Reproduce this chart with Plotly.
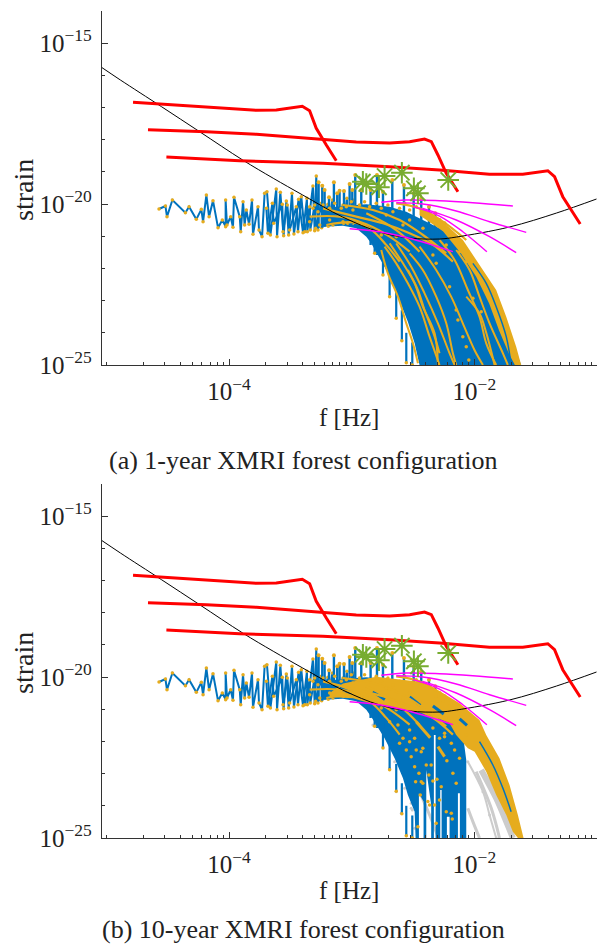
import plotly.graph_objects as go

# All arrays are log10(f [Hz]) and log10(strain).
sens_f = [-5.04,-4.886,-4.55,-4.24,-3.889,-3.64,-3.40,-3.074,-2.772,-2.528,-2.283,-2.145,-1.713,-1.330,-1.004]
sens_s = [-15.755,-16.149,-16.98,-17.755,-18.634,-19.2,-19.72,-20.404,-20.87,-21.056,-21.087,-21.025,-20.714,-20.28,-19.845]

red1_f = [-4.783,-4.321,-4.05,-3.777,-3.615,-3.506,-3.403,-3.343,-3.289,-3.207,-3.126]
red1_s = [-16.842,-16.947,-17.019,-17.09,-17.081,-17.028,-16.966,-17.102,-17.649,-18.168,-18.655]
red2_f = [-4.661,-4.185,-3.777,-3.37,-2.963,-2.691,-2.528,-2.406,-2.351,-2.297,-2.229,-2.134]
red2_s = [-17.693,-17.755,-17.835,-17.96,-18.075,-18.106,-18.065,-17.981,-18.065,-18.478,-19.047,-19.618]
red3_f = [-4.511,-3.914,-3.235,-2.691,-2.284,-1.877,-1.605,-1.401,-1.346,-1.279,-1.21,-1.137]
red3_s = [-18.54,-18.655,-18.736,-18.84,-18.944,-19.078,-19.078,-18.966,-19.152,-19.773,-20.186,-20.621]

mag_f = [[-2.759,-2.555,-2.284,-2.012,-1.686],[-2.636,-2.42,-2.148,-1.876,-1.577],
         [-2.501,-2.284,-2.094,-1.898],[-2.42,-2.148,-1.876,-1.659],[-3.017,-2.773,-2.528,-2.175]]
mag_s = [[-19.947,-19.876,-19.898,-19.96,-20.062],[-19.96,-20.0,-20.217,-20.55,-20.879],
         [-20.084,-20.373,-20.86,-21.481],[-20.134,-20.497,-21.016,-21.512],[-20.767,-20.86,-21.065,-21.481]]

star_f = [-2.909,-2.881,-2.778,-2.732,-2.591,-2.493,-2.46,-2.213]
star_s = [-19.307,-19.379,-19.481,-19.13,-19.028,-19.512,-19.668,-19.255]

zig_f = [-4.571,-4.519,-4.506,-4.462,-4.356,-4.326,-4.267,-4.226,-4.212,-4.185,-4.163,-4.131,-4.09,-4.055,-4.028,-4.028,-4.017,-3.987,-3.968,-3.96,-3.913,-3.905,-3.886,-3.873,-3.859,-3.837,-3.813,-3.805,-3.764,-3.756,-3.731,-3.71,-3.691,-3.663,-3.615,-3.609,-3.582,-3.555,-3.533,-3.514,-3.487,-3.471,-3.433,-3.397,-3.365,-3.362,-3.316,-3.302,-3.289,-3.275]
zig_s = [-20.155,-20.062,-20.394,-19.876,-20.269,-20.083,-20.476,-20.166,-20.549,-19.721,-20.394,-19.897,-20.735,-20.497,-20.704,-19.876,-20.652,-20.394,-20.725,-19.793,-20.394,-20.859,-19.928,-20.652,-20.186,-20.632,-19.876,-20.942,-20.083,-20.808,-21.015,-19.669,-19.617,-20.963,-19.534,-21.015,-19.638,-20.984,-19.907,-20.963,-19.669,-20.932,-19.855,-20.89,-19.824,-20.859,-19.441,-20.828,-19.131,-20.808]

dense_f = [-3.696,-3.683,-3.647,-3.636,-3.566,-3.56,-3.525,-3.506,-3.452,-3.438,-3.411,-3.384,-3.343,-3.338,-3.302,-3.294,-3.248,-3.245,-3.194,-3.191,-3.158,-3.153,-3.071,-3.066,-3.039,-3.033,-2.99,-2.987]
dense_s = [-20.135,-20.911,-19.979,-20.601,-20.011,-20.859,-20.031,-20.808,-20.083,-20.859,-19.772,-20.859,-20.083,-20.808,-20.031,-20.756,-19.979,-20.735,-20.011,-20.694,-19.876,-20.652,-20.031,-20.601,-19.824,-20.601,-19.876,-20.601]

spike_f   = [-3.27,-3.24,-3.221,-3.185,-3.145,-3.118,-3.099,-3.063,-3.017,-2.995,-2.971,-2.922,-2.846,-2.794,-2.745,-2.669,-2.574,-2.495,-2.433,-2.37,-2.319,-2.284,-2.243]
spike_top = [-19.327,-19.431,-19.565,-19.793,-19.327,-19.669,-19.586,-19.596,-19.379,-19.565,-19.1,-19.565,-19.565,-19.1,-19.617,-19.255,-19.41,-19.669,-19.824,-20.083,-20.29,-20.497,-20.601]
spike_bot = [-20.756,-20.735,-20.704,-20.683,-20.652,-20.632,-20.611,-20.601,-20.601,-20.632,-20.652,-20.704,-21.273,-21.584,-21.584,-21.2,-21.2,-21.2,-21.2,-21.2,-21.2,-21.2,-21.2]

tip_f   = [-2.813,-2.745,-2.691,-2.637,-2.591,-2.555,-2.506]
tip_top = [-21.1,-21.6,-22.1,-22.7,-23.3,-24.0,-24.3]
tip_bot = [-21.532,-22.205,-22.878,-23.551,-24.244,-24.928,-25.0]

body_a_f = [-3.234,-3.071,-2.963,-2.881,-2.841,-2.718,-2.623,-2.542,-2.487,-2.447,-1.618,-1.686,-1.767,-1.876,-2.012,-2.148,-2.284,-2.419,-2.555,-2.691,-2.881,-3.071,-3.234]
body_a_s = [-20.704,-20.673,-20.756,-21.015,-21.222,-22.05,-22.878,-23.654,-24.327,-25.0,-25.0,-24.327,-23.5,-22.464,-21.636,-21.118,-20.756,-20.497,-20.238,-20.083,-20.01,-20.062,-20.134]

band_a_f = [-2.447,-2.256,-2.093,-1.93,-1.822,-1.74,-1.659,-1.618,-1.67,-1.72,-1.80,-1.88,-1.985,-2.11,-2.256,-2.447]
band_a_s = [-20.135,-20.549,-21.118,-22.05,-22.67,-23.5,-24.43,-25.0,-25.0,-24.638,-23.913,-23.085,-22.257,-21.532,-20.85,-20.35]
thin_a_f = [-2.012,-1.903,-1.822,-1.74,-1.70]
thin_a_s = [-21.843,-22.464,-23.188,-24.12,-25.0]

arcs_a_f = [[-2.759,-2.705,-2.623,-2.555,-2.501,-2.46],[-2.732,-2.637,-2.542,-2.447,-2.365,-2.284],
            [-2.637,-2.515,-2.406,-2.297,-2.202,-2.161],[-2.528,-2.42,-2.311,-2.229,-2.175,-2.148],
            [-2.447,-2.311,-2.189,-2.094,-1.999,-1.93],[-2.148,-2.039,-1.958,-1.876,-1.767,-1.727],
            [-2.691,-2.582,-2.487,-2.42,-2.324,-2.297],[-2.542,-2.46,-2.406,-2.324,-2.284],
            [-2.284,-2.161,-2.053,-1.958,-1.903,-1.822],[-2.066,-1.958,-1.903,-1.835]]
arcs_a_s = [[-21.429,-22.153,-22.878,-23.706,-24.327,-24.948],[-21.325,-21.843,-22.464,-23.188,-24.12,-25.0],
            [-21.222,-21.946,-22.774,-23.706,-24.638,-25.0],[-21.532,-22.05,-22.878,-23.706,-24.638,-25.0],
            [-21.325,-22.05,-22.878,-23.706,-24.534,-25.0],[-21.429,-22.05,-22.878,-23.706,-24.638,-25.0],
            [-21.222,-21.843,-22.464,-23.188,-24.017,-25.0],[-22.05,-22.671,-23.292,-24.12,-24.638],
            [-21.118,-21.739,-22.671,-23.5,-24.327,-25.0],[-22.878,-23.4,-24.0,-25.0]]

streak_f = [[-3.343,-3.099,-2.881,-2.691,-2.528],[-3.234,-2.963,-2.745,-2.528,-2.338,-2.175],
            [-3.071,-2.827,-2.609,-2.419,-2.229],[-3.207,-2.99,-2.854,-2.718,-2.609],
            [-2.637,-2.447,-2.256,-2.066],[-2.881,-2.637,-2.447]]
streak_s = [[-20.394,-20.394,-20.632,-21.015,-21.48],[-20.135,-20.394,-20.6,-20.91,-21.27,-21.79],
            [-20.031,-20.186,-20.497,-20.963,-21.53],[-20.652,-20.57,-20.756,-21.27,-21.79],
            [-19.98,-20.135,-20.549,-21.118],[-20.29,-20.808,-21.48]]

dots_a_f = [-2.311,-2.202,-2.148,-2.094,-2.066,-2.045,-2.134,-2.012,-1.944,-3.316,-3.275,-3.234,-3.18,-3.139,-3.085,-3.044,-3.003,-2.936,-2.895,-2.854,-2.8,-2.759,-2.705,-2.664,-2.61,-2.569,-2.528,-2.474,-2.419,-2.365,-2.311,-2.256,-2.202,-2.148,-2.528,-2.419,-2.718,-2.582,-2.637,-2.759,-2.338,-2.229,-2.12,-2.066,-3.343,-3.261,-3.18,-3.071,-2.99]
dots_a_s = [-21.843,-22.567,-23.292,-24.12,-24.43,-24.845,-23.6,-22.93,-23.344,-20.135,-20.238,-20.031,-20.135,-19.979,-20.135,-20.083,-19.928,-20.031,-19.928,-20.083,-19.979,-20.135,-20.031,-20.238,-20.135,-19.979,-20.186,-20.083,-20.29,-20.342,-20.601,-20.756,-20.911,-21.015,-20.497,-20.756,-20.342,-20.652,-21.015,-20.963,-21.584,-21.273,-21.48,-21.791,-20.549,-20.652,-20.497,-20.549,-20.186]

# panel (b)
body_b_f = [-3.234,-3.071,-2.963,-2.881,-2.841,-2.732,-2.65,-2.582,-2.542,-2.487,-2.479,-2.452,-2.452,-2.414,-2.414,-2.392,-2.392,-2.352,-2.352,-2.33,-2.33,-2.316,-2.316,-2.278,-2.278,-2.267,-2.267,-2.224,-2.224,-2.202,-2.202,-2.134,-2.134,-2.118,-2.118,-2.066,-2.066,-2.093,-2.284,-2.419,-2.555,-2.691,-2.881,-3.071,-3.234]
body_b_s = [-20.704,-20.673,-20.756,-21.015,-21.232,-21.905,-22.526,-23.147,-23.664,-24.182,-25.0,-25.0,-23.613,-23.87,-25.0,-25.0,-22.888,-23.975,-25.0,-25.0,-21.801,-21.801,-25.0,-25.0,-23.509,-23.509,-25.0,-25.0,-24.337,-24.337,-25.0,-25.0,-23.613,-23.613,-25.0,-25.0,-22.577,-21.801,-20.756,-20.497,-20.238,-20.083,-20.01,-20.062,-20.134]

band_b_f = [-3.18,-3.071,-2.80,-2.637,-2.447,-2.256,-2.12,-1.958,-1.903,-1.795,-1.713,-1.645,-1.599,-1.645,-1.686,-1.74,-1.822,-1.903,-1.998,-2.053,-2.148,-2.202,-2.392,-2.582,-2.80,-2.99,-3.18]
band_b_s = [-20.5,-20.2,-19.99,-20.072,-20.145,-20.507,-20.818,-21.335,-21.801,-22.526,-23.354,-24.286,-25.0,-25.0,-24.803,-24.286,-23.664,-22.94,-22.319,-22.215,-21.801,-21.439,-21.128,-21.025,-20.87,-20.663,-20.62]
thin_b_f = [-1.958,-1.849,-1.767,-1.70]
thin_b_s = [-22.008,-22.733,-23.457,-24.182]

patch_f = [[-3.1,-3.0],[-2.827,-2.73],[-2.528,-2.44],[-2.338,-2.25],[-2.12,-2.06]]
patch_s = [[-20.35,-20.5],[-20.45,-20.7],[-20.62,-20.88],[-20.9,-21.15],[-21.3,-21.5]]

streak_b_f = [[-2.474,-2.36],[-2.297,-2.243]]
streak_b_s = [[-21.387,-21.884],[-22.163,-22.474]]

dots_b_f = [-2.691,-2.623,-2.528,-2.582,-2.487,-2.61,-2.528,-2.42,-2.555,-2.474,-2.433,-2.515,-2.392,-2.352,-2.487,-2.452,-2.371,-2.338,-2.305,-2.479,-2.433,-2.42,-2.27,-2.284,-2.243,-2.243,-2.188,-2.161,-2.224,-2.175,-2.148,-2.284,-2.379,-2.365,-2.324,-2.229,-2.188,-2.18,-2.311,-2.46,-2.441,-2.121]
dots_b_s = [-21.387,-21.491,-21.646,-21.905,-21.905,-22.06,-22.008,-22.215,-22.267,-22.267,-22.319,-22.474,-22.733,-22.733,-22.785,-22.992,-23.043,-23.23,-23.178,-23.25,-23.25,-23.302,-23.406,-21.905,-21.749,-21.853,-22.06,-22.267,-22.598,-22.992,-23.302,-23.82,-23.87,-23.975,-23.975,-24.182,-24.234,-24.41,-24.544,-24.648,-23.664,-22.526]

gray_dots_f = [-2.827,-2.745,-2.691,-2.637,-2.596,-2.555,-2.514,-2.506,-2.65,-2.569,-2.515,-2.487,-2.053,-1.93,-1.876,-1.822]
gray_dots_s = [-21.49,-22.163,-22.836,-23.56,-24.234,-24.927,-23.923,-24.13,-22.63,-23.457,-24.079,-24.7,-22.63,-23.56,-24.286,-25.0]
gray_f = [[-2.447,-2.365,-2.297],[-2.053,-2.012,-1.958],[-2.053,-1.93,-1.876,-1.822],[-1.985,-1.862,-1.795],[-1.944,-1.822,-1.74,-1.686]]
gray_s = [[-23.56,-24.286,-24.958],[-24.079,-24.493,-25.0],[-22.63,-23.56,-24.286,-25.0],[-22.94,-24.079,-25.0],[-22.888,-23.768,-24.493,-25.0]]
gray_w = [3, 3, 2, 3, 6]

x_ticks = [1e-4, 1e-2]
x_labels = ["10<sup>\u22124</sup>", "10<sup>\u22122</sup>"]
y_ticks = [1e-25, 1e-20, 1e-15]
y_labels = ["10<sup>\u221225</sup>", "10<sup>\u221220</sup>", "10<sup>\u221215</sup>"]
captions = ["(a) 1-year XMRI forest configuration", "(b) 10-year XMRI forest configuration"]

BLUE, ORANGE, GRAY = "#0072BD", "#E6AC1E", "#CCCCCC"
FONT = "Liberation Serif"
TEXT = "#222222"

def P(a):
    return [10 ** v for v in a]

fig = go.Figure()

def line(f, s, color, width, ax, mode="lines", msize=3, fill=None, mcolor=None, shape="linear"):
    fig.add_trace(go.Scatter(
        x=P(f), y=P(s), mode=mode, fill=fill, fillcolor=color if fill else None,
        line=dict(color=color, width=width, shape=shape),
        marker=dict(color=mcolor or color, size=msize),
        xaxis=ax[0], yaxis=ax[1], showlegend=False, hoverinfo="skip"))

def dots(f, s, ax, color=ORANGE, size=3.5):
    fig.add_trace(go.Scatter(x=P(f), y=P(s), mode="markers", marker=dict(color=color, size=size),
                             xaxis=ax[0], yaxis=ax[1], showlegend=False, hoverinfo="skip"))

def common_low(ax):
    line(zig_f, zig_s, BLUE, 2, ax, "lines+markers", 3.5, mcolor=ORANGE)
    line(dense_f, dense_s, BLUE, 2, ax, "lines+markers", 3.5, mcolor=ORANGE)
    for f, t, b in zip(spike_f, spike_top, spike_bot):
        line([f, f], [t, b], BLUE, 2.4, ax)
    dots(spike_f, spike_top, ax, size=4)
    for f, t, b in zip(tip_f, tip_top, tip_bot):
        line([f, f], [t, b], BLUE, 2.2, ax)
    dots(tip_f, tip_bot, ax, size=3.5)

def common_top(ax):
    line(sens_f, sens_s, "#000000", 1, ax, shape="spline")
    for f, s in zip(mag_f, mag_s):
        line(f, s, "#FF00FF", 1.4, ax, shape="spline")
    for f, s in [(red1_f, red1_s), (red2_f, red2_s), (red3_f, red3_s)]:
        line(f, s, "#FF0000", 3, ax)
    fig.add_trace(go.Scatter(x=P(star_f), y=P(star_s), mode="markers",
                             marker=dict(symbol="asterisk-open", size=18, color="#77AC30",
                                         line=dict(color="#77AC30", width=2)),
                             xaxis=ax[0], yaxis=ax[1], showlegend=False, hoverinfo="skip"))

# panel a
A = ("x", "y")
line(body_a_f + body_a_f[:1], body_a_s + body_a_s[:1], BLUE, 0, A, fill="toself")
common_low(A)
line(band_a_f + band_a_f[:1], band_a_s + band_a_s[:1], ORANGE, 0, A, fill="toself")
line(thin_a_f, thin_a_s, BLUE, 1.5, A, shape="spline")
for f, s in zip(arcs_a_f, arcs_a_s):
    line(f, s, ORANGE, 2, A, shape="spline")
for f, s in zip(streak_f, streak_s):
    line(f, s, ORANGE, 2.2, A, shape="spline")
dots(dots_a_f, dots_a_s, A)
common_top(A)

# panel b
B = ("x2", "y2")
dots(gray_dots_f, gray_dots_s, B, GRAY, 3)
for f, s, w in zip(gray_f, gray_s, gray_w):
    line(f, s, GRAY, w, B, shape="spline")
line(body_b_f + body_b_f[:1], body_b_s + body_b_s[:1], BLUE, 0, B, fill="toself")
common_low(B)
line(band_b_f + band_b_f[:1], band_b_s + band_b_s[:1], ORANGE, 0, B, fill="toself")
line(thin_b_f, thin_b_s, BLUE, 1.5, B, shape="spline")
for f, s in zip(patch_f, patch_s):
    line(f, s, BLUE, 3, B)
for f, s in zip(streak_f, streak_s):
    line(f, s, ORANGE, 2.2, B, shape="spline")
for f, s in zip(streak_b_f, streak_b_s):
    line(f, s, ORANGE, 3, B)
dots(dots_b_f, dots_b_s, B)
dots(dots_a_f[9:], dots_a_s[9:], B)
common_top(B)

H, W = 945.0, 597.0
x_minor = [m * 10.0 ** e for e in range(-5, -1) for m in range(1, 10)]
y_minor = [10.0 ** e for e in range(-25, -13)]
axcol = "#333333"

def xaxis(anchor):
    return dict(type="log", range=[-5.036, -1.0], domain=[102 / W, 1], anchor=anchor, automargin=False,
                showgrid=False, zeroline=False, showline=True, linecolor=axcol, linewidth=1.3,
                ticks="inside", ticklen=6, tickwidth=1, tickcolor=axcol, tickmode="array",
                tickvals=x_ticks, ticktext=x_labels, ticklabelstandoff=4,
                tickfont=dict(family=FONT, size=25, color=TEXT),
                minor=dict(ticks="inside", ticklen=3, tickwidth=1, tickcolor=axcol,
                           tickmode="array", tickvals=x_minor, showgrid=False))

def yaxis(anchor, top, bottom):
    return dict(type="log", range=[-25, -14], domain=[1 - bottom / H, 1 - top / H], anchor=anchor, automargin=False,
                showgrid=False, zeroline=False, showline=True, linecolor=axcol, linewidth=1.3,
                ticks="inside", ticklen=6, tickwidth=1, tickcolor=axcol, tickmode="array",
                tickvals=y_ticks, ticktext=y_labels, ticklabelstandoff=4,
                tickfont=dict(family=FONT, size=25, color=TEXT),
                minor=dict(ticks="inside", ticklen=3, tickwidth=1, tickcolor=axcol,
                           tickmode="array", tickvals=y_minor, showgrid=False))

def ann(text, x, y, size, angle=0):
    return dict(text=text, x=x / W, y=1 - y / H, xref="paper", yref="paper", showarrow=False,
                xanchor="center", yanchor="middle", textangle=angle,
                font=dict(family=FONT, size=size, color=TEXT))

fig.update_layout(
    width=597, height=945, margin=dict(l=0, r=0, t=0, b=0, pad=0),
    paper_bgcolor="white", plot_bgcolor="white", showlegend=False,
    xaxis=xaxis("y"), yaxis=yaxis("x", 10.8, 365),
    xaxis2=xaxis("y2"), yaxis2=yaxis("x2", 483.8, 838),
    annotations=[
        ann("strain", 23, 190, 28, -90), ann("strain", 23, 663, 28, -90),
        ann("f [Hz]", 349, 417, 25), ann("f [Hz]", 349, 890, 25),
        ann(captions[0], 303, 460, 26), ann(captions[1], 303, 929, 26),
    ],
)
fig.write_html("out.html", config=dict(displayModeBar=False),
               post_script="document.body.style.margin='0';document.body.style.overflow='hidden';")
